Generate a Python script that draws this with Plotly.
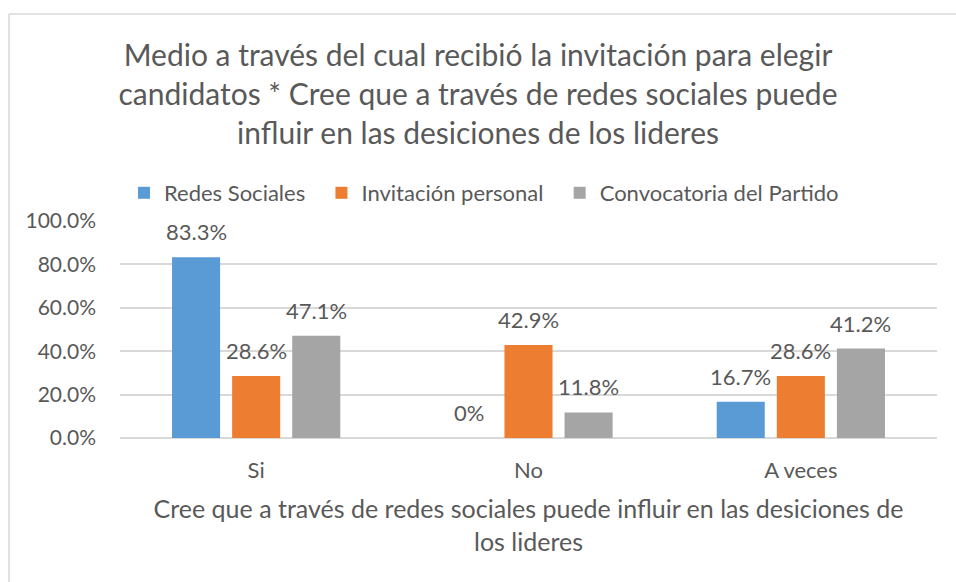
import plotly.graph_objects as go

# Categories and series
categories = ["Si", "No", "A veces"]
redes_sociales = [0.833, 0.0, 0.167]
invitacion_personal = [0.286, 0.429, 0.286]
convocatoria_partido = [0.471, 0.118, 0.412]

series_names = ["Redes Sociales", "Invitación personal", "Convocatoria del Partido"]
series_colors = ["#5b9bd5", "#ed7d31", "#a5a5a5"]

text_color = "#595959"
grid_color = "#d9d9d9"
font_family = "Lato, Calibri, sans-serif"

W, H = 956, 582
L, R, T, B = 120, 19, 221, 144
pw, ph = W - L - R, H - T - B


def pct_label(v):
    return "0%" if v == 0 else f"{v * 100:.1f}%"


fig = go.Figure()
annotations = []
all_series = [redes_sociales, invitacion_personal, convocatoria_partido]
for i, (name, vals, col) in enumerate(zip(series_names, all_series, series_colors)):
    fig.add_trace(go.Bar(
        name=name + "\u00a0" * 2,
        x=categories,
        y=vals,
        marker=dict(color=col, line=dict(width=0)),
    ))
    # value labels above each bar
    for cat, v in zip(categories, vals):
        annotations.append(dict(
            x=cat, y=v, xref="x", yref="y",
            xshift=(i - 1) * 60, yshift=10,
            yanchor="bottom", showarrow=False,
            text=pct_label(v),
            font=dict(size=22, color=text_color, family=font_family),
        ))

# chart-area frame (only top and left edges are visible in the original)
x_left = (9 - L) / pw
y_top = (H - B - 14) / ph
frame = [
    dict(type="line", xref="paper", yref="paper",
         x0=x_left, x1=x_left, y0=(H - B - H - 20) / ph, y1=y_top,
         line=dict(color=grid_color, width=1.5), layer="below"),
    dict(type="line", xref="paper", yref="paper",
         x0=x_left, x1=(W + 20 - L) / pw, y0=y_top, y1=y_top,
         line=dict(color=grid_color, width=1.5), layer="below"),
]

fig.update_layout(
    width=W,
    height=H,
    margin=dict(l=L, r=R, t=T, b=B),
    paper_bgcolor="white",
    plot_bgcolor="white",
    font=dict(family=font_family, color=text_color, size=22),
    barmode="group",
    bargap=0.338,
    bargroupgap=0.2,
    title=dict(
        text="Medio a través del cual recibió la invitación para elegir<br>"
             "candidatos * Cree que a través de redes sociales puede<br>"
             "influir en las desiciones de los lideres",
        x=0.5, xref="container", xanchor="center",
        y=1 - 66 / H, yref="container", yanchor="middle",
        font=dict(size=30, color=text_color, family=font_family),
    ),
    legend=dict(
        orientation="h",
        x=(124 - L) / pw, xanchor="left",
        y=(H - B - 193) / ph, yanchor="middle",
        font=dict(size=22, color=text_color),
        traceorder="normal",
    ),
    showlegend=True,
    xaxis=dict(
        showgrid=False,
        showline=False,
        ticks="",
        tickfont=dict(size=22),
        ticklabelstandoff=17,
        title=dict(
            text="Cree que a través de redes sociales puede influir en las desiciones de<br>los lideres",
            font=dict(size=25),
            standoff=18,
        ),
    ),
    yaxis=dict(
        range=[0, 1],
        dtick=0.2,
        tickformat=".1%",
        showgrid=True,
        gridcolor=grid_color,
        gridwidth=1.5,
        zeroline=True,
        zerolinecolor=grid_color,
        zerolinewidth=1.5,
        showline=False,
        ticks="",
        ticklabelstandoff=23,
        tickfont=dict(size=21),
    ),
    annotations=annotations,
    shapes=frame,
)

# drop the default page margin so the 956x582 figure fills the window
fig.write_html(
    "out.html",
    config={"displayModeBar": False},
    post_script="document.body.style.margin='0';document.body.style.overflow='hidden';",
)
